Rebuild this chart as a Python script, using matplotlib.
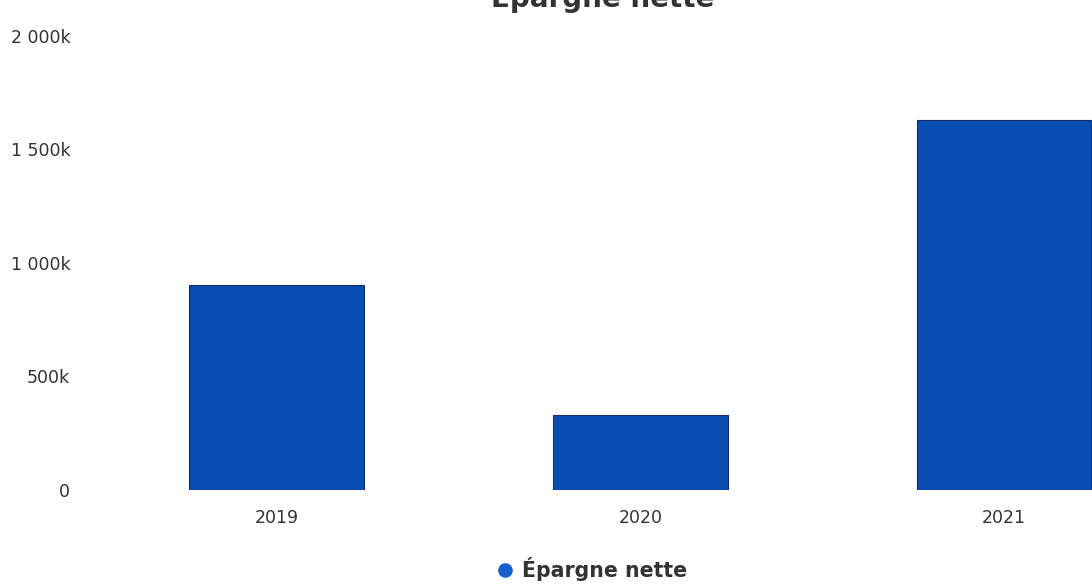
import matplotlib
matplotlib.use('Agg')
import matplotlib.pyplot as plt
from matplotlib.ticker import FuncFormatter
from matplotlib.lines import Line2D

# Epargne nette par exercice
annees = ['2019', '2020', '2021']
epargne = [902000, 328000, 1628000]
yticks = [0, 500000, 1000000, 1500000, 2000000]

couleur = '#0a4db3'
gris = '#333333'

W, H = 1092, 586
fig = plt.figure(figsize=(W / 100, H / 100), dpi=100)

# zone de trace (en pixels) : la derniere categorie deborde a droite
x0, x1 = 94.5, 1186
y_top, y_bot = 35.6, 490
ax = fig.add_axes([x0 / W, (H - y_bot) / H, (x1 - x0) / W, (y_bot - y_top) / H])

ax.bar(range(len(annees)), epargne, width=0.48, color=couleur,
       edgecolor='#14306e', linewidth=0.8)

ax.set_xlim(-0.5, 2.5)
ax.set_ylim(0, 2000000)
ax.set_xticks(range(len(annees)))
ax.set_xticklabels(annees)
ax.set_yticks(yticks)


def fmt_k(v, pos):
    if v == 0:
        return '0'
    return f'{v / 1000:,.0f}k'.replace(',', ' ')


ax.yaxis.set_major_formatter(FuncFormatter(fmt_k))
ax.tick_params(axis='x', length=0, pad=14, labelsize=12.5, colors=gris)
ax.tick_params(axis='y', length=0, pad=17.5, labelsize=12.5, colors=gris)
for s in ax.spines.values():
    s.set_visible(False)

# titre (coupe en haut de la page)
fig.text(603 / W, (H - 7) / H, 'Épargne nette', ha='center', va='baseline',
         fontsize=20, fontweight='bold', color=gris)

# legende
handle = Line2D([], [], marker='o', linestyle='none', markersize=9.5,
                markerfacecolor='#1a5fd0', markeredgecolor='#1a5fd0')
fig.legend([handle], ['Épargne nette'], loc='center', frameon=False,
           bbox_to_anchor=(591 / W, (H - 569) / H), handletextpad=0.35,
           handlelength=1.0, prop={'size': 14.8, 'weight': 'bold'},
           labelcolor=gris)

fig.savefig('out.png', dpi=100, facecolor='white')
